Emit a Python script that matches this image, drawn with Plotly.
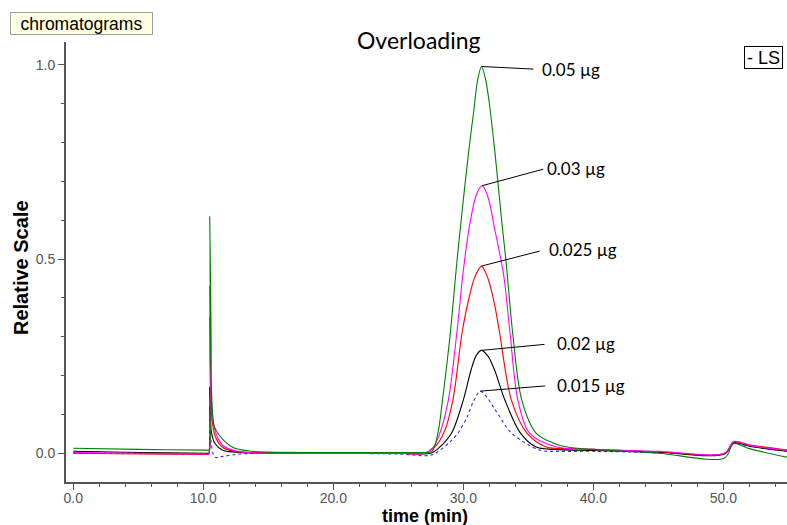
import plotly.graph_objects as go

# ---- data ----
t_005 = [0, 5, 10.3, 10.42, 10.5, 10.6, 10.8, 11.0, 11.5, 12.3, 13.5, 15, 20, 25, 27.0, 27.6, 28.05, 28.4, 29.0, 29.5, 29.9, 30.4, 30.8, 31.1, 31.4, 31.7, 32.0, 32.44, 32.95, 33.3, 33.8, 34.5, 35.6, 37.0, 38.0, 40, 45, 50.1, 50.8, 52, 54.9]
v_005 = [0.013, 0.010, 0.008, 0.008, 0.61, 0.2, 0.075, 0.058, 0.036, 0.015, 0.006, 0.003, 0.002, 0.002, 0.002, 0.005, 0.052, 0.137, 0.309, 0.49, 0.62, 0.773, 0.88, 0.96, 0.996, 0.965, 0.902, 0.773, 0.6, 0.49, 0.309, 0.137, 0.052, 0.025, 0.016, 0.01, 0.0, -0.012, 0.025, 0.012, -0.01]

t_003 = [0, 5, 10.3, 10.42, 10.5, 10.6, 10.9, 11.5, 12.3, 13.3, 15, 20, 25, 27.0, 27.7, 28.2, 28.85, 29.5, 30.0, 30.5, 31.0, 31.45, 31.9, 32.4, 33.1, 33.6, 34.2, 35.1, 37.2, 40, 45, 50.1, 50.8, 52, 54.9]
v_003 = [0.002, 0.0, -0.002, -0.002, 0.43, 0.15, 0.059, 0.02, 0.008, 0.002, 0.001, 0.0, 0.0, 0.0, 0.016, 0.052, 0.137, 0.309, 0.47, 0.59, 0.665, 0.689, 0.66, 0.58, 0.46, 0.309, 0.137, 0.052, 0.016, 0.01, 0.005, 0.0, 0.03, 0.02, 0.008]

t_0025 = [0, 5, 10.3, 10.42, 10.5, 10.6, 10.9, 11.5, 12.5, 14, 20, 25, 27.0, 27.8, 28.5, 29.2, 29.9, 30.4, 30.9, 31.4, 31.9, 32.4, 32.8, 33.7, 34.9, 36.4, 38, 40, 45, 50.1, 50.8, 52, 54.9]
v_0025 = [0.0, -0.002, -0.003, -0.003, 0.35, 0.12, 0.045, 0.015, 0.005, 0.001, 0.0, 0.0, 0.0, 0.016, 0.052, 0.137, 0.309, 0.394, 0.455, 0.482, 0.45, 0.384, 0.309, 0.137, 0.052, 0.016, 0.012, 0.01, 0.004, 0.0, 0.03, 0.022, 0.008]

t_002 = [0, 5, 10.3, 10.42, 10.5, 10.6, 10.9, 11.5, 12.5, 14, 20, 25, 27.5, 28.1, 29.1, 30.0, 30.6, 31.0, 31.4, 31.9, 32.4, 33.2, 34.4, 35.6, 37, 40, 45, 50.1, 50.8, 52, 54.9]
v_002 = [0.005, 0.002, 0.0, 0.0, 0.17, 0.06, 0.025, 0.008, 0.003, 0.001, 0.0, 0.0, 0.0, 0.013, 0.052, 0.137, 0.215, 0.252, 0.265, 0.25, 0.215, 0.137, 0.052, 0.016, 0.01, 0.007, 0.003, -0.002, 0.027, 0.018, 0.005]

t_0015 = [0, 5, 10.3, 10.42, 10.5, 10.6, 10.9, 11.5, 12.5, 14, 20, 25, 27.5, 28.2, 29.0, 29.6, 30.3, 30.8, 31.3, 31.8, 32.3, 32.8, 33.7, 35.9, 37.5, 40, 45, 50.1, 50.8, 52, 54.9]
v_0015 = [0.0, 0.0, -0.002, -0.002, 0.12, 0.03, -0.01, -0.008, -0.003, 0.0, 0.0, -0.002, -0.005, 0.008, 0.03, 0.052, 0.094, 0.135, 0.16, 0.145, 0.12, 0.094, 0.052, 0.008, 0.005, 0.005, 0.002, 0.0, 0.025, 0.018, 0.006]

series_labels = ["0.015 µg", "0.02 µg", "0.025 µg", "0.03 µg", "0.05 µg"]
series_t = [t_0015, t_002, t_0025, t_003, t_005]
series_v = [v_0015, v_002, v_0025, v_003, v_005]
series_colors = ["#2b2bff", "#000000", "#ff0000", "#ff00ff", "#008000"]
series_dash = ["3px,3px", "solid", "solid", "solid", "solid"]
# label offsets (pixels) from each peak to its text, and gap between line end and text
label_ax = [75, 74, 66, 63, 59]
label_ay = [-6, -7, -17, -17, 3]
label_gap = [10, 11, 8, 2, 7]

x_ticks = [0, 10, 20, 30, 40, 50]
y_ticks = [0.0, 0.5, 1.0]

fig = go.Figure()
for t, v, c, d, name in zip(series_t, series_v, series_colors, series_dash, series_labels):
    fig.add_trace(go.Scatter(x=t, y=v, mode="lines", name=name,
                             line=dict(color=c, width=1.1, dash=d, shape="spline", smoothing=0.9),
                             showlegend=False, hoverinfo="skip"))

annotations = []
for t, v, name, ax, ay, gap in zip(series_t, series_v, series_labels, label_ax, label_ay, label_gap):
    # peak of the main band (after 25 min)
    idx = max((i for i in range(len(t)) if t[i] > 25), key=lambda i: v[i])
    annotations.append(dict(x=t[idx], y=v[idx], xref="x", yref="y", text=name,
                            showarrow=True, arrowhead=0, arrowwidth=1, arrowcolor="#000000",
                            ax=ax, ay=ay, xanchor="left", yanchor="middle",
                            startstandoff=gap,
                            font=dict(family="Lato, Open Sans, sans-serif", size=17, color="#000000")))

W, H = 787, 525
L, R, T, B = 66, 0, 42, 43
pw, ph = W - L - R, H - T - B

def px(xp):
    return (xp - L) / pw

def py(yp):
    return (H - B - yp) / ph

annotations += [
    dict(x=px(10), y=py(12), xref="paper", yref="paper", xanchor="left", yanchor="top",
         text="chromatograms", showarrow=False, bgcolor="#ffffe1", bordercolor="#a0a0a0",
         borderwidth=1, borderpad=0, width=141, height=21, align="center", valign="middle",
         font=dict(family="Liberation Sans, Arial, sans-serif", size=17.5, color="#000000")),
    dict(x=px(783), y=py(46), xref="paper", yref="paper", xanchor="right", yanchor="top",
         text="- LS", showarrow=False, bgcolor="#ffffff", bordercolor="#000000",
         borderwidth=1, borderpad=0, width=37, height=21, align="center", valign="middle",
         font=dict(family="Liberation Sans, Arial, sans-serif", size=18, color="#000000")),
    dict(x=px(419), y=py(40), xref="paper", yref="paper", xanchor="center", yanchor="middle",
         text="Overloading", showarrow=False,
         font=dict(family="Lato, Open Sans, sans-serif", size=23, color="#000000")),
    dict(x=px(425), y=py(516), xref="paper", yref="paper", xanchor="center", yanchor="middle",
         text="<b>time (min)</b>", showarrow=False,
         font=dict(family="Liberation Sans, Arial, sans-serif", size=18, color="#000000")),
    dict(x=px(21), y=py(268), xref="paper", yref="paper", xanchor="center", yanchor="middle",
         text="<b>Relative Scale</b>", showarrow=False, textangle=-90,
         font=dict(family="Liberation Sans, Arial, sans-serif", size=20, color="#000000")),
]

axis_common = dict(showgrid=False, zeroline=False, showline=True, linewidth=2, linecolor="#555555",
                   ticks="outside", ticklen=6, tickwidth=1, tickcolor="#555555",
                   tickfont=dict(family="Liberation Sans, Arial, sans-serif", size=14, color="#555555"),
                   tickformat=".1f")

fig.update_xaxes(range=[-0.56, 54.9], tickvals=x_ticks, mirror=False, ticklabelstandoff=-4,
                 minor=dict(dtick=2, tick0=0, ticks="outside", ticklen=3, tickcolor="#555555"),
                 **axis_common)
fig.update_yaxes(range=[-0.074, 1.059], tickvals=y_ticks,
                 minor=dict(dtick=0.1, tick0=0, ticks="outside", ticklen=3, tickcolor="#555555"),
                 **axis_common)

fig.update_layout(width=W, height=H, margin=dict(l=L, r=R, t=T, b=B, pad=0),
                  plot_bgcolor="#ffffff", paper_bgcolor="#ffffff",
                  annotations=annotations, showlegend=False)

fig.write_html("out.html")
